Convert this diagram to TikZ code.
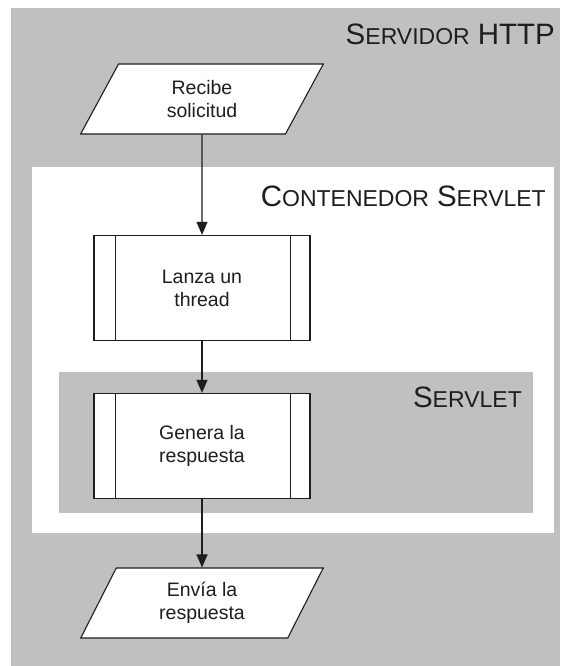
\documentclass[tikz,border=0pt]{standalone}
\usepackage{fontspec}
\setmainfont{Liberation Sans}
\usetikzlibrary{shapes.geometric,arrows.meta}
\definecolor{bggray}{RGB}{192,192,192}
\definecolor{ink}{RGB}{30,30,30}
\tikzset{
  txt/.style={font=\fontsize{19.5}{23}\selectfont, align=center, text=ink},
  iobox/.style={txt, draw=ink, fill=white, line width=1.1pt, trapezium,
    trapezium left angle=66.8, trapezium right angle=113.2,
    trapezium stretches=true, minimum width=243pt, minimum height=70pt, inner sep=0pt},
  procbox/.style={txt, draw=ink, fill=white, line width=1.3pt, rectangle,
    minimum width=216pt, minimum height=105pt, inner sep=0pt},
  flow/.style={draw=ink, line width=1.1pt, -{Triangle[width=11pt,length=13pt]}},
  title/.style={anchor=base east, inner sep=0pt, text=ink},
  bar/.style={draw=ink, line width=1.3pt},
}
\newcommand{\MyTitleBig}[1]{{\fontsize{29.5}{29.5}\selectfont #1}}
\newcommand{\MyTitleSml}[1]{{\fontsize{23}{23}\selectfont #1}}
\newcommand{\MyGap}{\hspace{8pt}}
\begin{document}
\begin{tikzpicture}[x=1pt,y=-1pt]
\useasboundingbox (0,0) rectangle (560,666);
\fill[bggray] (11,8) rectangle (560,666);
\fill[white] (32,167) rectangle (554,533);
\fill[bggray] (59,372) rectangle (533,513);

\node[title] (tserv) at (555,45) {\MyTitleBig{S}\MyTitleSml{ERVIDOR}\MyGap\MyTitleBig{HTTP}};
\node[title] (tcont) at (546,206) {\MyTitleBig{C}\MyTitleSml{ONTENEDOR}\MyGap\MyTitleBig{S}\MyTitleSml{ERVLET}};
\node[title] (tsrvl) at (522,407) {\MyTitleBig{S}\MyTitleSml{ERVLET}};

\node[iobox] (recv) at (202,99) {Recibe\\solicitud};
\node[procbox] (thread) at (202,288) {Lanza un\\thread};
\node[procbox] (gen) at (202,446) {Genera la\\respuesta};
\node[iobox] (send) at (202,603) {Envía la\\respuesta};

\foreach \n in {thread,gen}{
  \draw[bar] ([xshift=22pt]\n.north west) -- ([xshift=22pt]\n.south west);
  \draw[bar] ([xshift=-20pt]\n.north east) -- ([xshift=-20pt]\n.south east);
}

\draw[flow] (recv) -- (thread);
\draw[flow] (thread) -- (gen);
\draw[flow] (gen) -- (send);
\end{tikzpicture}
\end{document}
